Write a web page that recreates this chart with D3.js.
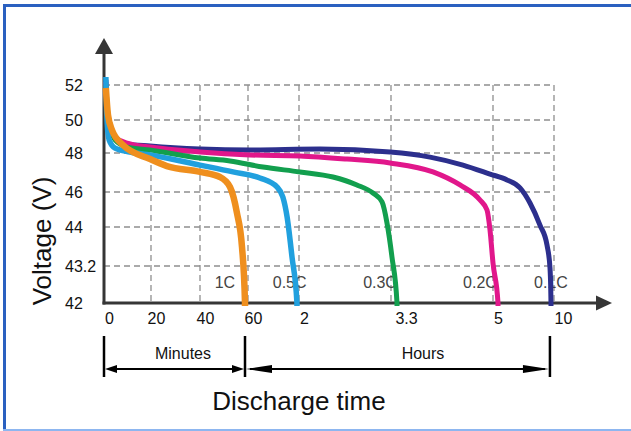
<!DOCTYPE html>
<html>
<head>
<meta charset="utf-8">
<script src="https://cdn.jsdelivr.net/npm/d3@7"></script>
<style>
  body { margin: 0; background: #fff; }
  text { font-family: "Liberation Sans", Arial, sans-serif; }
</style>
</head>
<body>
<script>
// ---- data (time in minutes, voltage in V) ----
var xTicks = [0, 20, 40, 60, 120, 198, 300, 600];
var xTickLabels = ['0', '20', '40', '60', '2', '3.3', '5', '10'];
var yTicks = [42, 43.2, 44, 46, 48, 50, 52];

var rate1C = [[0.8, 51.83], [1.7, 50.29], [3.4, 49.39], [8.1, 48.48], [19.6, 47.69], [26.5, 47.33],
  [40, 47.03], [48.3, 46.77], [52.5, 46.26], [55.4, 44.8], [57.5, 43.59], [58.75, 42]];
var rate05C = [[0.8, 52.46], [1.0, 51.1], [1.4, 49.7], [2.2, 48.79], [4.7, 48.3], [11, 48.06],
  [19.6, 47.9], [40, 47.38], [53.75, 47.03], [74, 46.72], [94, 46.26], [101, 45.71],
  [106, 44.57], [111.8, 43.38], [117.6, 42]];
var rate03C = [[0.8, 52], [1.3, 50.86], [2.6, 49.7], [4.7, 48.79], [9.8, 48.36], [19.6, 48.18],
  [40, 47.74], [52.5, 47.59], [77.6, 47.28], [120.8, 47.03], [148.8, 46.77], [169.1, 46.36],
  [182.7, 45.94], [190.4, 45.43], [194.6, 44.23], [199, 43.38], [204, 42]];
var rate02C = [[0.8, 52.17], [1.3, 50.57], [2.6, 49.52], [4.7, 48.97], [9.8, 48.6], [19.6, 48.36],
  [40, 48.06], [62.4, 47.9], [120.8, 47.85], [160.7, 47.69], [197.2, 47.49], [240, 47.03],
  [267, 46.36], [287, 45.54], [294, 44.97], [297, 43.94], [300, 43.26], [324.6, 42]];
var rate01C = [[0.8, 52.29], [1.3, 50.46], [2.6, 49.39], [4.7, 48.91], [9.8, 48.55], [19.6, 48.42],
  [40, 48.24], [62.4, 48.18], [137.8, 48.24], [197.2, 48.06], [237, 47.79], [270, 47.38],
  [297, 46.92], [368.9, 46.62], [432.8, 46.21], [482, 45.37], [531, 44.11], [565.6, 43.63],
  [580.3, 43.14], [585.2, 42]];

var rateNames = ['1C', '0.5C', '0.3C', '0.2C', '0.1C'];
var rateLabelTimes = [50.4, 109, 188.7, 287, 585];
var rateLabelVolt = 42.68;

// ---- layout ----
var width = 631, height = 431;
var colors = { '1C': '#ef8f1e', '0.5C': '#21a0de', '0.3C': '#129f4e', '0.2C': '#e1178b', '0.1C': '#2c2f8d' };
var widths = { '1C': 6.5, '0.5C': 5.5, '0.3C': 5, '0.2C': 5, '0.1C': 5 };

var x = d3.scaleLinear()
  .domain(xTicks)
  .range([104, 151, 200, 248, 299, 391, 493, 554]);
var y = d3.scaleLinear()
  .domain(yTicks)
  .range([303, 266, 227, 192, 153, 120, 85]);

var svg = d3.select('body').append('svg')
  .attr('width', width)
  .attr('height', height);

// frame
svg.append('line').attr('x1', 3).attr('x2', width).attr('y1', 5.5).attr('y2', 5.5)
  .attr('stroke', '#2a60c0').attr('stroke-width', 3);
svg.append('line').attr('x1', 4.5).attr('x2', 4.5).attr('y1', 4).attr('y2', height)
  .attr('stroke', '#2a60c0').attr('stroke-width', 3);
svg.append('line').attr('x1', 3).attr('x2', width).attr('y1', 430).attr('y2', 430)
  .attr('stroke', '#8db6f0').attr('stroke-width', 2);

// grid
var grid = svg.append('g').attr('stroke', '#8f8f8f').attr('stroke-width', 1.3)
  .attr('stroke-dasharray', '6,4').attr('fill', 'none');
grid.selectAll('.hg').data(yTicks.slice(1)).enter().append('line')
  .attr('x1', x(0)).attr('x2', x(600))
  .attr('y1', function(d) { return y(d); }).attr('y2', function(d) { return y(d); });
grid.selectAll('.vg').data(xTicks.slice(1)).enter().append('line')
  .attr('x1', function(d) { return x(d); }).attr('x2', function(d) { return x(d); })
  .attr('y1', y(52)).attr('y2', y(42));

// tick labels
var xAxis = svg.append('g')
  .attr('transform', 'translate(5,' + (y(42) + 7) + ')')
  .call(d3.axisBottom(x).tickValues(xTicks).tickSize(0)
    .tickFormat(function(d, i) { return xTickLabels[i]; }));
xAxis.select('.domain').remove();
xAxis.selectAll('text').attr('font-size', 16).attr('fill', '#111')
  .style('font-family', '"Liberation Sans", Arial, sans-serif');
xAxis.selectAll('.tick text').filter(function(d) { return d === 198; }).attr('dx', 10);
xAxis.selectAll('.tick text').filter(function(d) { return d === 600; }).attr('dx', 4);

var yAxis = svg.append('g')
  .attr('transform', 'translate(65,0)')
  .call(d3.axisLeft(y).tickValues(yTicks).tickSize(0).tickFormat(function(d) { return d; }));
yAxis.select('.domain').remove();
yAxis.selectAll('text').attr('x', 0).attr('text-anchor', 'start')
  .attr('font-size', 16).attr('fill', '#111')
  .style('font-family', '"Liberation Sans", Arial, sans-serif');

// rate labels (behind curves)
svg.selectAll('.rate').data(rateNames).enter().append('text')
  .attr('x', function(d, i) { return x(rateLabelTimes[i]); })
  .attr('y', y(rateLabelVolt))
  .attr('dy', '0.35em')
  .attr('text-anchor', 'middle')
  .attr('font-size', 16)
  .attr('fill', '#444')
  .text(function(d) { return d; });

// axes with arrows
var axisColor = '#363636';
svg.append('line').attr('x1', x(0)).attr('x2', x(0)).attr('y1', y(42) + 1.5).attr('y2', 52)
  .attr('stroke', axisColor).attr('stroke-width', 3);
svg.append('path').attr('d', 'M' + x(0) + ',38L' + (x(0) - 9) + ',54L' + (x(0) + 9) + ',54Z')
  .attr('fill', axisColor);
svg.append('line').attr('x1', x(0) - 1.5).attr('x2', 598).attr('y1', y(42)).attr('y2', y(42))
  .attr('stroke', axisColor).attr('stroke-width', 3);
svg.append('path').attr('d', 'M612,' + y(42) + 'L596,' + (y(42) - 7.5) + 'L596,' + (y(42) + 7.5) + 'Z')
  .attr('fill', axisColor);

// curves
var line = d3.line()
  .x(function(d) { return x(d[0]); })
  .y(function(d) { return y(d[1]); })
  .curve(d3.curveMonotoneX);

var series = [
  { name: '0.1C', values: rate01C },
  { name: '0.2C', values: rate02C },
  { name: '0.3C', values: rate03C },
  { name: '0.5C', values: rate05C },
  { name: '1C', values: rate1C }
];
svg.selectAll('.curve').data(series).enter().append('path')
  .attr('class', 'curve')
  .attr('d', function(d) { return line(d.values.concat([[d.values[d.values.length - 1][0], 41.9]])); })
  .attr('fill', 'none')
  .attr('stroke', function(d) { return colors[d.name]; })
  .attr('stroke-width', function(d) { return widths[d.name]; })
  .attr('stroke-linejoin', 'round');

// time brackets
var bracketTimes = [0, 58.75, 580];
var bTop = 336, bBot = 377, bArrow = 369;
var br = svg.append('g').attr('stroke', '#000').attr('stroke-width', 2.5);
br.selectAll('line').data(bracketTimes).enter().append('line')
  .attr('x1', function(d) { return x(d); }).attr('x2', function(d) { return x(d); })
  .attr('y1', bTop).attr('y2', bBot);

function dblArrow(x1, x2, head) {
  var g = svg.append('g');
  g.append('line').attr('x1', x1 + 4).attr('x2', x2 - 4).attr('y1', bArrow).attr('y2', bArrow)
    .attr('stroke', '#000').attr('stroke-width', 2);
  g.append('path').attr('d', 'M' + x1 + ',' + bArrow + 'L' + (x1 + head) + ',' + (bArrow - 4) +
    'L' + (x1 + head) + ',' + (bArrow + 4) + 'Z').attr('fill', '#000');
  g.append('path').attr('d', 'M' + x2 + ',' + bArrow + 'L' + (x2 - head) + ',' + (bArrow - 4) +
    'L' + (x2 - head) + ',' + (bArrow + 4) + 'Z').attr('fill', '#000');
}
dblArrow(x(0) + 1, x(58.75) - 1, 12);
dblArrow(x(58.75) + 1, x(580) - 1, 26);

svg.append('text').attr('x', 183).attr('y', 353).attr('dy', '0.35em').attr('text-anchor', 'middle')
  .attr('font-size', 16).attr('fill', '#111').text('Minutes');
svg.append('text').attr('x', 423).attr('y', 353).attr('dy', '0.35em').attr('text-anchor', 'middle')
  .attr('font-size', 16).attr('fill', '#111').text('Hours');

// axis titles
svg.append('text').attr('x', 299).attr('y', 401).attr('dy', '0.35em').attr('text-anchor', 'middle')
  .attr('font-size', 26).attr('fill', '#111').text('Discharge time');
svg.append('text')
  .attr('transform', 'translate(42,241) rotate(-90)')
  .attr('dy', '0.35em').attr('text-anchor', 'middle')
  .attr('font-size', 26).attr('fill', '#111').text('Voltage (V)');
</script>
</body>
</html>
